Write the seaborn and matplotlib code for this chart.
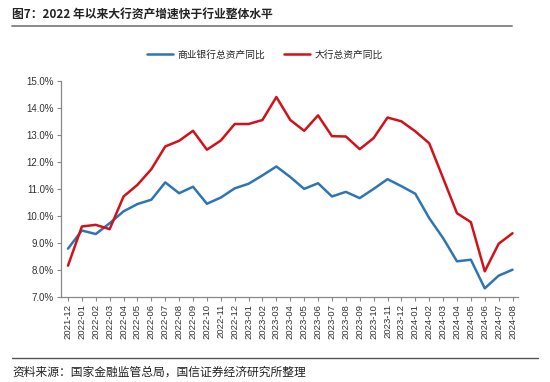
import matplotlib
matplotlib.use("Agg")
import matplotlib.pyplot as plt
import seaborn as sns
import pandas as pd
from matplotlib.lines import Line2D

months = ["2021-12", "2022-01", "2022-02", "2022-03", "2022-04", "2022-05", "2022-06",
          "2022-07", "2022-08", "2022-09", "2022-10", "2022-11", "2022-12",
          "2023-01", "2023-02", "2023-03", "2023-04", "2023-05", "2023-06",
          "2023-07", "2023-08", "2023-09", "2023-10", "2023-11", "2023-12",
          "2024-01", "2024-02", "2024-03", "2024-04", "2024-05", "2024-06",
          "2024-07", "2024-08"]
commercial = [8.79, 9.46, 9.33, 9.73, 10.17, 10.44, 10.60, 11.24, 10.84, 11.08, 10.45,
              10.68, 11.02, 11.19, 11.50, 11.83, 11.44, 11.00, 11.21, 10.72, 10.89,
              10.66, 11.00, 11.36, 11.10, 10.82, 9.92, 9.18, 8.32, 8.38, 7.32, 7.79, 8.01]
big_banks = [8.16, 9.61, 9.67, 9.51, 10.72, 11.15, 11.73, 12.57, 12.78, 13.15, 12.45,
             12.79, 13.40, 13.40, 13.55, 14.40, 13.55, 13.15, 13.72, 12.95, 12.94,
             12.47, 12.88, 13.64, 13.50, 13.13, 12.69, 11.40, 10.10, 9.77, 7.95, 8.97, 9.36]
series_names = ["商业银行总资产同比", "大行总资产同比"]
y_ticks = [7, 8, 9, 10, 11, 12, 13, 14, 15]

sns.set_theme(style="white")
plt.rcParams["font.family"] = ["Noto Sans CJK SC", "DejaVu Sans"]
plt.rcParams["axes.unicode_minus"] = False

df = pd.DataFrame({
    "idx": list(range(len(months))) * 2,
    "value": commercial + big_banks,
    "series": [series_names[0]] * len(months) + [series_names[1]] * len(months),
})

colors = {series_names[0]: "#2E75B6", series_names[1]: "#D0121B"}

fig = plt.figure(figsize=(5.5, 3.82), dpi=100)
ax = fig.add_axes([0.111, 0.2225, 0.831, 0.566])
sns.lineplot(data=df, x="idx", y="value", hue="series", palette=colors,
             linewidth=1.8, ax=ax, legend=False)

ax.set_xlim(-0.5, 32.4)
ax.set_ylim(7, 15)
ax.set_yticks(y_ticks)
ax.set_yticklabels([f"{v:.1f}%" for v in y_ticks], fontsize=7, color="#333333",
                   family=["Liberation Sans", "DejaVu Sans"])
ax.set_xticks(range(len(months)))
ax.set_xticklabels(months, rotation=90, fontsize=6.8, color="#333333",
                   family=["Liberation Sans", "DejaVu Sans"])
ax.set_xlabel("")
ax.set_ylabel("")
for s in ["top", "right"]:
    ax.spines[s].set_visible(False)
for s in ["left", "bottom"]:
    ax.spines[s].set_color("#888888")
    ax.spines[s].set_linewidth(0.9)
ax.tick_params(axis="both", which="both", length=3, width=0.8, color="#888888",
               direction="out", pad=2, left=True, bottom=True)
ax.grid(False)

handles = [Line2D([0], [0], color=colors[n], lw=1.8) for n in series_names]
fig.legend(handles, series_names, loc="center", bbox_to_anchor=(0.482, 0.857),
           ncol=2, frameon=False, fontsize=7, handlelength=2.7, columnspacing=1.9,
           handletextpad=0.45)

fig.text(0.022, 0.96, "图7：2022 年以来大行资产增速快于行业整体水平", fontsize=8.5,
         fontweight="bold", color="#222222", va="center", ha="left")
fig.add_artist(Line2D([0.022, 0.931], [0.932, 0.932], color="#888888", lw=1.4))
fig.add_artist(Line2D([0.022, 0.978], [0.063, 0.063], color="#555555", lw=1.0))
fig.text(0.022, 0.026, "资料来源：国家金融监管总局，国信证券经济研究所整理", fontsize=8.5,
         color="#222222", va="center", ha="left")

fig.savefig("out.png", dpi=100)
